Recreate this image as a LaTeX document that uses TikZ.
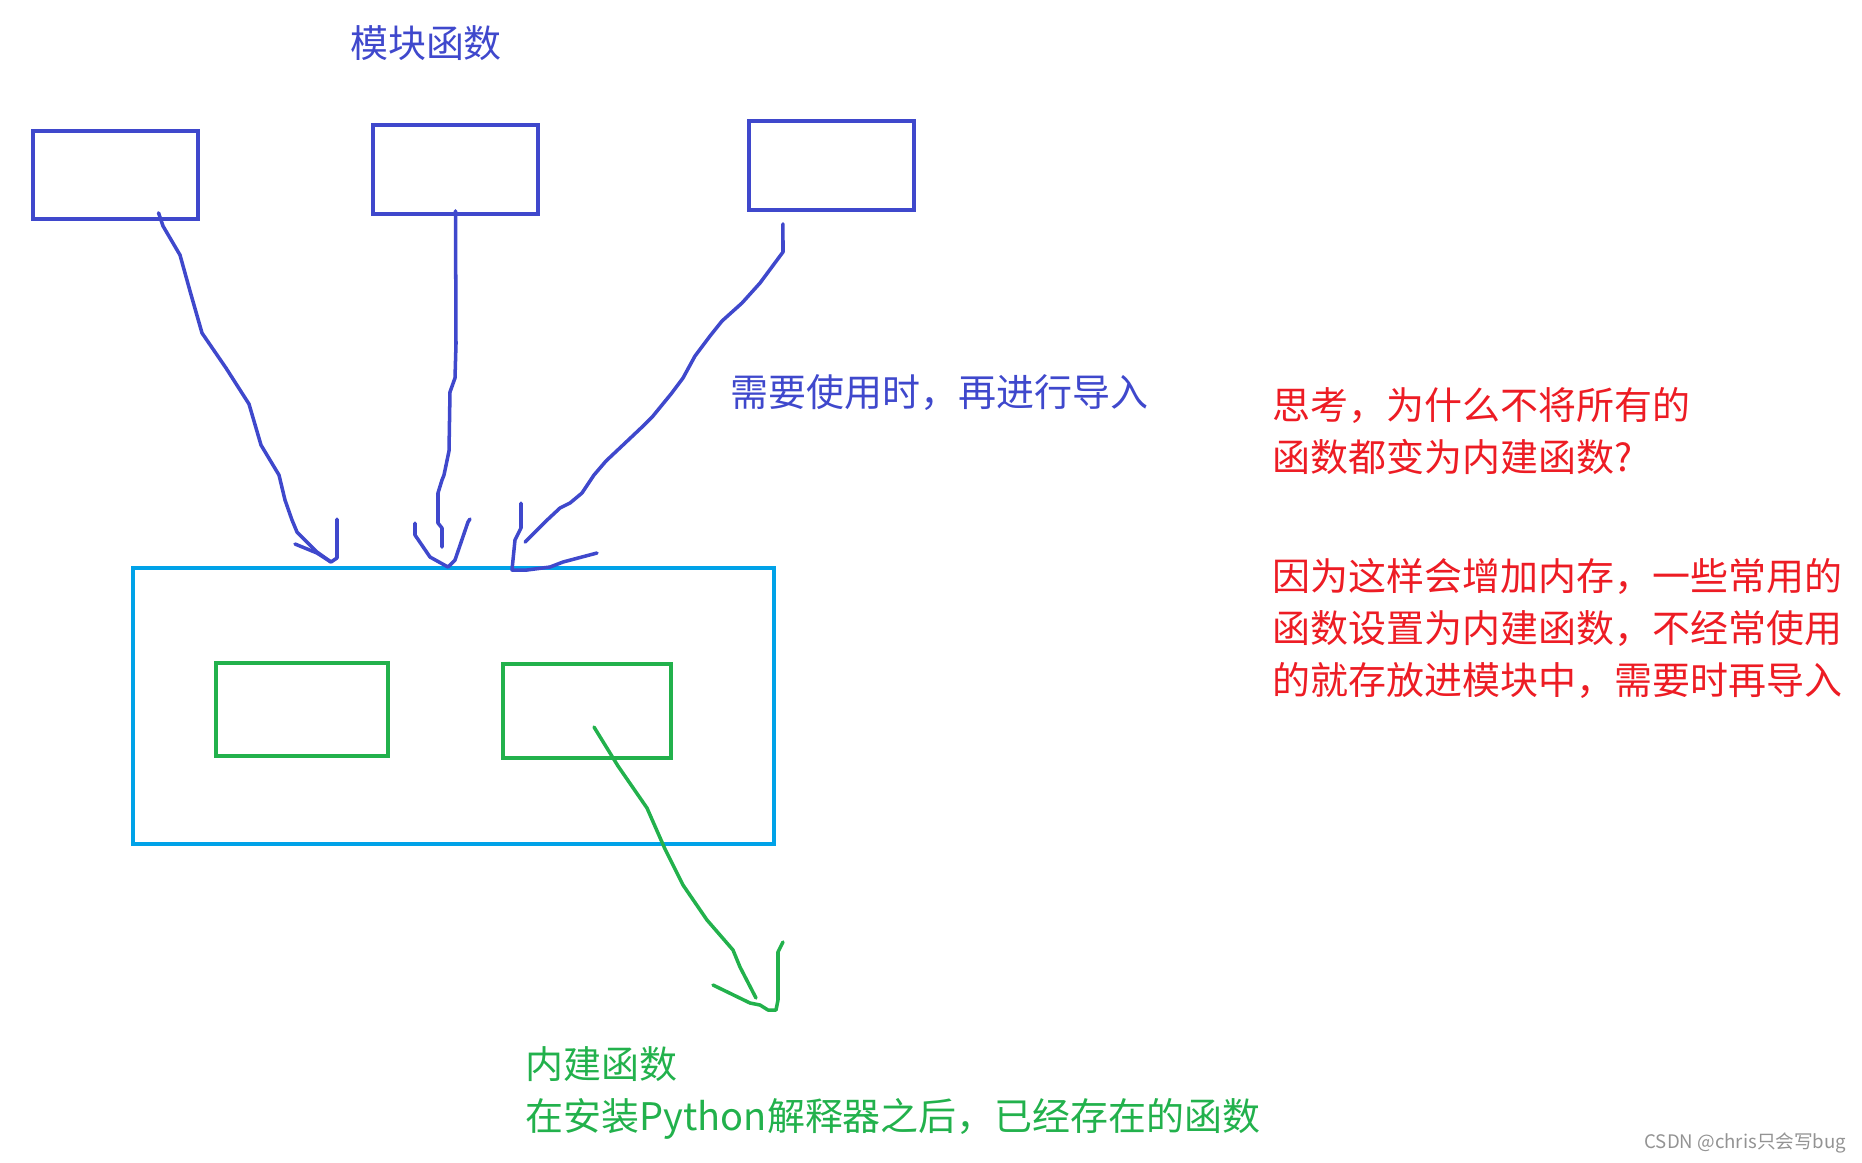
\documentclass[tikz,border=0pt]{standalone}
\usepackage{fontspec}
\usepackage{xcolor}
\newfontfamily\cjk{Noto Sans CJK SC}
\definecolor{modblue}{HTML}{3F48CC}
\definecolor{pyblue}{HTML}{00A2E8}
\definecolor{bigreen}{HTML}{22B14C}
\definecolor{thinkred}{HTML}{ED1C24}

\begin{document}
\begin{tikzpicture}[
    x=0.01cm, y=-0.01cm,
    box/.style={rectangle, draw=#1, line width=1pt, inner sep=0pt},
    box/.default=modblue,
    note/.style={font=\cjk\fontsize{10.8}{14.8}\selectfont, text=#1, align=left, inner sep=0pt, anchor=west},
    note/.default=modblue,
    hand/.style={draw=#1, line width=1pt, line join=round, line cap=round},
    hand/.default=modblue
]
    \useasboundingbox (0,0) rectangle (1862,1162);

    % Module boxes
    \node[box, minimum width=1.65cm, minimum height=0.88cm] (mod1) at (115.5,175) {};
    \node[box, minimum width=1.65cm, minimum height=0.89cm] (mod2) at (455.5,169.5) {};
    \node[box, minimum width=1.65cm, minimum height=0.89cm] (mod3) at (831.5,165.5) {};
    \node[note, anchor=center] (title) at (426,43) {模块函数};

    % Interpreter with built-in functions
    \node[box=pyblue,  minimum width=6.41cm, minimum height=2.76cm] (interp)   at (453.5,706) {};
    \node[box=bigreen, minimum width=1.72cm, minimum height=0.93cm] (builtin1) at (302,709.5) {};
    \node[box=bigreen, minimum width=1.68cm, minimum height=0.94cm] (builtin2) at (587,711) {};

    % Texts
    \node[note] (importnote) at (730,393) {需要使用时，再进行导入};
    \node[note=thinkred] (question) at (1272,431.5) {思考，为什么不将所有的\\函数都变为内建函数?};
    \node[note=thinkred] (answer) at (1272,628) {因为这样会增加内存，一些常用的\\函数设置为内建函数，不经常使用\\的就存放进模块中，需要时再导入};
    \node[note=bigreen] (builtinlabel) at (525,1092.5) {内建函数\\在安装Python解释器之后，已经存在的函数};
    \node[font=\cjk\fontsize{5.3}{6}\selectfont, text=gray!85, inner sep=0pt, anchor=east] (watermark) at (1847,1143) {CSDN @chris只会写bug};

    % Hand drawn import arrows
    \coordinate (tip1) at (331,562);
    \coordinate (tip2) at (448,567);
    \coordinate (tip3) at (512,570);
    \coordinate (tip4) at (776,1010);

    \draw[hand] ([xshift=0.43cm,yshift=0.08cm]mod1.south) -- (163,226) -- (180,255) -- (190,291) -- (202,333) -- (226,368)
        -- (249,404) -- (261,445) -- (279,475) -- (285,500) -- (292,520) -- (297,532) -- (307,542) -- (317,552) -- (tip1);
    \draw[hand] (295,544) -- (317,553) -- (tip1) -- (337,558) -- (337,519);

    \draw[hand] ([yshift=0.05cm]mod2.south) -- (456,344) -- (455,378) -- (450,392) -- (449,451) -- (444,475)
        -- (442,480) -- (438,493) -- (438,523) -- (442,528) -- (442,547);
    \draw[hand] (415,523) -- (415,535) -- (430,557) -- (tip2) -- (455,560) -- (468,522) -- (470,519);

    \draw[hand] ([xshift=-0.485cm,yshift=-0.12cm]mod3.south) -- (783,252) -- (760,283) -- (742,303) -- (722,321) -- (710,336)
        -- (695,356) -- (683,378) -- (671,394) -- (653,416) -- (641,428) -- (623,445) -- (606,461) -- (594,475)
        -- (582,493) -- (570,503) -- (560,508) -- (545,522) -- (525,542);
    \draw[hand] (521,503) -- (521,528) -- (515,540) -- (tip3) -- (527,570) -- (550,567) -- (563,562) -- (597,553);

    % Built-in arrow
    \draw[hand=bigreen] ([xshift=0.07cm,yshift=-0.16cm]builtin2.center) -- (618,766) -- (647,808) -- (665,849) -- (683,885)
        -- (707,920) -- (733,950) -- (740,967) -- (756,998);
    \draw[hand=bigreen] (713,985) -- (750,1003) -- (760,1005) -- (768,1010) -- (tip4) -- (778,1000) -- (778,952) -- (783,942);

\end{tikzpicture}
\end{document}
